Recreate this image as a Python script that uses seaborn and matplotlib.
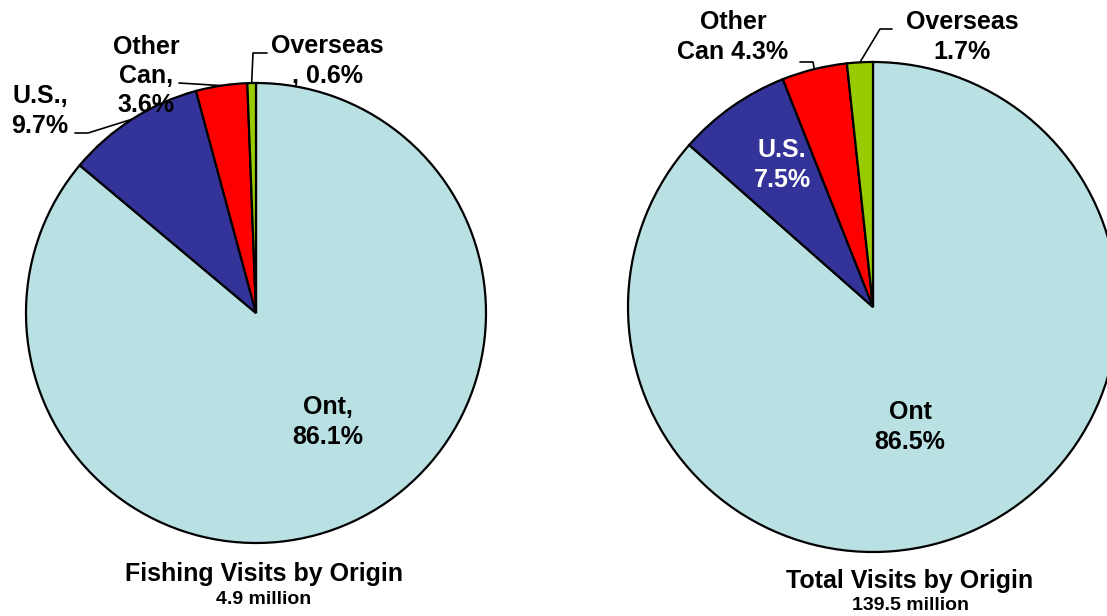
import numpy as np
import seaborn as sns
import matplotlib.pyplot as plt

# data
origins = ["Ont", "U.S.", "Other Can", "Overseas"]
fishing_share = [86.1, 9.7, 3.6, 0.6]
total_share = [86.5, 7.5, 4.3, 1.7]
fishing_labels = ["Ont,\n86.1%", "U.S.,\n9.7%", "Other\nCan,\n3.6%", "Overseas\n, 0.6%"]
total_labels = ["Ont\n86.5%", "U.S.\n7.5%", "Other\nCan 4.3%", "Overseas\n1.7%"]
fishing_title = "Fishing Visits by Origin"
fishing_sub = "4.9 million"
total_title = "Total Visits by Origin"
total_sub = "139.5 million"

colors = ["#B9E0E3", "#333399", "#FF0000", "#99CC00"]

sns.set_theme(style="white")
plt.rcParams["font.family"] = ["Liberation Sans", "DejaVu Sans"]
plt.rcParams["font.weight"] = "bold"
plt.rcParams["text.color"] = "black"

W, H = 1107, 616
fig = plt.figure(figsize=(W / 100, H / 100), dpi=100)
ax = fig.add_axes([0, 0, 1, 1])


def Y(ypix):
    # pixel row (from top) -> axes y
    return H - ypix


def draw_pie(values, labels, cx, cy, r, label_pos, label_colors, leaders,
             title, sub, title_x, title_y, sub_y):
    wedges, _ = ax.pie(values, colors=colors, startangle=90, counterclock=False,
                       center=(cx, Y(cy)), radius=r, frame=True,
                       wedgeprops=dict(edgecolor="black", linewidth=1.6))
    for lab, (lx, ly), c in zip(labels, label_pos, label_colors):
        ax.text(lx, Y(ly), lab, ha="center", va="center", fontsize=18,
                fontweight="bold", color=c, linespacing=1.28)
    # leader lines: from the label to the middle of the wedge's arc
    for i, pts in leaders.items():
        w = wedges[i]
        mid = np.deg2rad((w.theta1 + w.theta2) / 2)
        ex = cx + r * np.cos(mid)
        ey = Y(cy) + r * np.sin(mid)
        xs = [p[0] for p in pts] + [ex]
        ys = [Y(p[1]) for p in pts] + [ey]
        ax.plot(xs, ys, color="black", lw=1.2)
    ax.text(title_x, Y(title_y), title, ha="center", va="center",
            fontsize=18, fontweight="bold", color="black")
    ax.text(title_x, Y(sub_y), sub, ha="center", va="center",
            fontsize=14, fontweight="bold", color="black")


draw_pie(fishing_share, fishing_labels, 256, 313, 230,
         [(328, 422), (40, 111), (146, 76), (327, 61)],
         ["black", "black", "black", "black"],
         {1: [(75, 133), (88, 133)], 2: [(179, 83)], 3: [(267, 53), (253, 53)]},
         fishing_title, fishing_sub, 264, 574, 599)

draw_pie(total_share, total_labels, 873, 307, 245,
         [(910, 427), (782, 165), (733, 37), (962, 37)],
         ["black", "white", "black", "black"],
         {2: [(800, 62), (813, 62)], 3: [(892, 29), (880, 29)]},
         total_title, total_sub, 910, 581, 606)

ax.set_xlim(0, W)
ax.set_ylim(0, H)
ax.set_aspect("equal")
ax.axis("off")

fig.savefig("out.png", dpi=100)
